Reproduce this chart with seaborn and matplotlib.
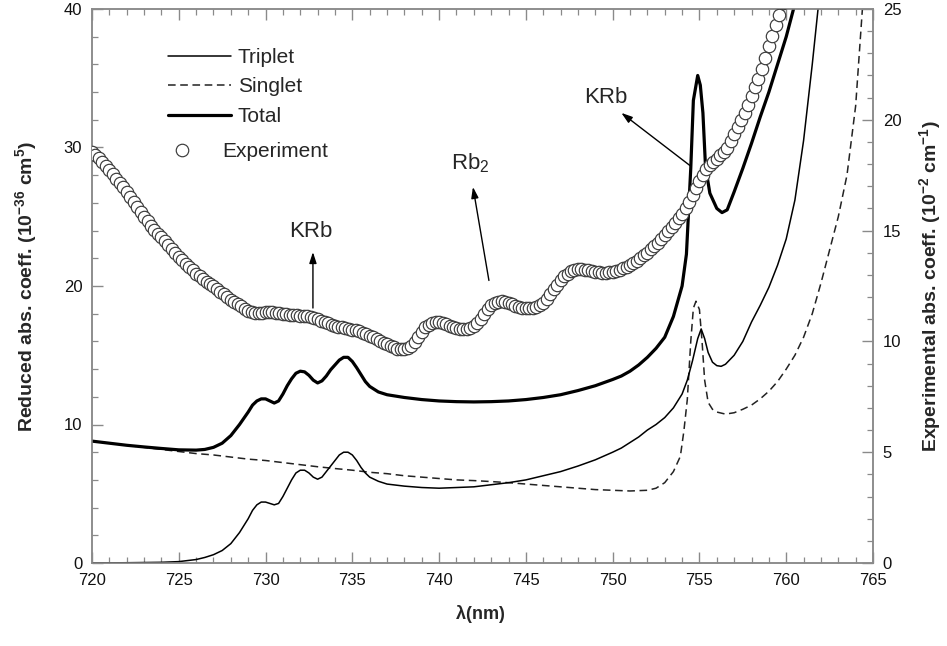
import numpy as np
import pandas as pd
import matplotlib
matplotlib.use("Agg")
import matplotlib.pyplot as plt
from matplotlib.lines import Line2D
from matplotlib.ticker import MultipleLocator
import seaborn as sns

# ---------------- data ----------------
# Triplet contribution, left axis (10^-36 cm^5)
wl_triplet = [720, 722, 724, 725, 726, 726.5, 727, 727.5, 728, 728.5, 729, 729.25, 729.5,
              729.75, 730.0, 730.25, 730.5, 730.75, 731.0, 731.25, 731.5, 731.75, 732.0,
              732.25, 732.5, 732.75, 733.0, 733.25, 733.5, 733.75, 734.0, 734.25, 734.5,
              734.75, 735.0, 735.25, 735.5, 735.75, 736.0, 736.5, 737, 738, 739, 740, 741,
              742, 743, 744, 745, 746, 747, 748, 749, 750, 750.5, 751, 751.5, 752, 752.5,
              753, 753.5, 754, 754.3, 754.6, 754.9, 755.1, 755.3, 755.5, 755.75, 756.0,
              756.25, 756.5, 757, 757.5, 758, 758.5, 759, 759.5, 760, 760.5, 761, 761.5, 762]
triplet = [0.0, 0.02, 0.05, 0.1, 0.25, 0.4, 0.6, 0.9, 1.4, 2.2, 3.2, 3.8, 4.2,
           4.4, 4.4, 4.3, 4.2, 4.3, 4.8, 5.4, 6.0, 6.5, 6.7,
           6.7, 6.5, 6.2, 6.05, 6.2, 6.6, 7.0, 7.4, 7.8, 8.0,
           8.0, 7.8, 7.4, 6.9, 6.5, 6.2, 5.9, 5.7, 5.55, 5.45, 5.4, 5.45,
           5.5, 5.65, 5.8, 6.0, 6.3, 6.6, 7.0, 7.45, 8.0, 8.3, 8.7, 9.1, 9.6, 10.0,
           10.5, 11.2, 12.2, 13.2, 14.6, 16.2, 16.9, 16.2, 15.2, 14.5, 14.25,
           14.2, 14.35, 15.0, 16.0, 17.4, 18.6, 19.9, 21.5, 23.4, 26.2, 30.5, 36.0, 42.0]

# Singlet contribution, left axis
wl_singlet = [720, 721, 722, 723, 724, 725, 726, 727, 728, 729, 730, 731, 732, 733, 734,
              735, 736, 737, 738, 739, 740, 741, 742, 743, 744, 745, 746, 747, 748, 749,
              750, 751, 752, 752.5, 753.0, 753.5, 753.9, 754.1, 754.3, 754.5, 754.65,
              754.8, 755.0, 755.15, 755.3, 755.5, 755.75, 756.0, 756.5, 757.0, 757.5,
              758.0, 758.5, 759.0, 759.5, 760.0, 760.5, 761.0, 761.5, 762.0, 762.5,
              763.0, 763.5, 764.0, 764.5]
singlet = [8.8, 8.65, 8.5, 8.35, 8.2, 8.05, 7.9, 7.8, 7.65, 7.5, 7.4, 7.25, 7.1, 6.95, 6.82,
           6.7, 6.55, 6.45, 6.3, 6.2, 6.1, 6.0, 5.95, 5.88, 5.8, 5.7, 5.6, 5.5, 5.4, 5.3,
           5.25, 5.2, 5.25, 5.4, 5.8, 6.6, 7.7, 9.5, 11.8, 16.0, 18.4,
           18.9, 18.3, 16.0, 13.2, 11.6, 11.1, 10.9, 10.75, 10.85, 11.1,
           11.4, 11.85, 12.4, 13.1, 14.0, 15.0, 16.3, 18.0, 20.2, 22.6,
           25.0, 28.0, 33.0, 42.0]

# Total, left axis
wl_total = [720, 721, 722, 723, 724, 725, 726, 726.5, 727, 727.5, 728, 728.5, 729, 729.25,
            729.5, 729.75, 730.0, 730.25, 730.5, 730.75, 731.0, 731.25, 731.5, 731.75,
            732.0, 732.25, 732.5, 732.75, 733.0, 733.25, 733.5, 733.75, 734.0, 734.25,
            734.5, 734.75, 735.0, 735.25, 735.5, 735.75, 736.0, 736.5, 737, 738, 739, 740,
            741, 742, 743, 744, 745, 746, 747, 748, 749, 750, 750.5, 751, 751.5, 752,
            752.5, 753, 753.5, 754, 754.25, 754.5, 754.65, 754.9, 755.05, 755.2, 755.35,
            755.6, 756.0, 756.3, 756.6, 757.0, 757.5, 758.0, 758.5, 759.0, 759.5, 760.0,
            760.4, 760.7]
total = [8.8, 8.65, 8.5, 8.38, 8.27, 8.17, 8.15, 8.2, 8.35, 8.65, 9.2, 10.0, 10.9, 11.4,
         11.7, 11.85, 11.85, 11.7, 11.55, 11.7, 12.2, 12.8, 13.3, 13.7,
         13.85, 13.8, 13.55, 13.2, 13.0, 13.15, 13.5, 13.95, 14.3, 14.65,
         14.85, 14.85, 14.55, 14.1, 13.6, 13.1, 12.75, 12.35, 12.15, 11.95, 11.8, 11.7,
         11.65, 11.63, 11.65, 11.7, 11.8, 11.95, 12.15, 12.45, 12.8, 13.25, 13.5, 13.85, 14.3, 14.85,
         15.5, 16.3, 17.8, 20.0, 22.3, 28.5, 33.4, 35.2, 34.5, 32.5, 28.6,
         26.7, 25.6, 25.3, 25.5, 26.8, 28.5, 30.3, 32.2, 34.0, 36.0, 38.0,
         39.9, 41.5]

# Experiment, right axis (10^-2 cm^-1), sampled every 0.2 nm from 720 nm
wl_exp_start, wl_exp_step = 720.0, 0.2
experiment = [
    18.56, 18.41, 18.26, 18.10, 17.93, 17.75, 17.55, 17.35, 17.15, 16.95,
    16.75, 16.53, 16.30, 16.08, 15.85, 15.63, 15.43, 15.23, 15.04, 14.86,
    14.69, 14.51, 14.34, 14.16, 13.99, 13.81, 13.66, 13.51, 13.36, 13.21,
    13.06, 12.94, 12.81, 12.70, 12.60, 12.50, 12.38, 12.25, 12.13, 12.00,
    11.88, 11.78, 11.68, 11.58, 11.48, 11.38, 11.33, 11.29, 11.28, 11.29,
    11.31, 11.31, 11.31, 11.30, 11.28, 11.25, 11.23, 11.20, 11.19, 11.18,
    11.16, 11.15, 11.14, 11.10, 11.05, 11.00, 10.94, 10.88, 10.81, 10.75,
    10.69, 10.66, 10.64, 10.61, 10.57, 10.53, 10.50, 10.46, 10.40, 10.33,
    10.25, 10.18, 10.10, 10.03, 9.95, 9.88, 9.80, 9.73, 9.66, 9.64,
    9.66, 9.71, 9.81, 9.97, 10.19, 10.44, 10.63, 10.76, 10.84, 10.88,
    10.88, 10.85, 10.79, 10.71, 10.64, 10.59, 10.57, 10.56, 10.58, 10.61,
    10.69, 10.83, 11.03, 11.24, 11.44, 11.63, 11.74, 11.79, 11.81, 11.80,
    11.75, 11.68, 11.60, 11.55, 11.52, 11.50, 11.50, 11.52, 11.56, 11.64,
    11.75, 11.93, 12.14, 12.35, 12.55, 12.75, 12.93, 13.06, 13.16, 13.23,
    13.25, 13.25, 13.23, 13.20, 13.16, 13.13, 13.11, 13.09, 13.09, 13.11,
    13.13, 13.18, 13.23, 13.29, 13.36, 13.44, 13.54, 13.64, 13.75, 13.88,
    14.00, 14.15, 14.30, 14.46, 14.64, 14.81, 14.99, 15.16, 15.35, 15.55,
    15.75, 16.01, 16.29, 16.60, 16.93, 17.25, 17.53, 17.76, 17.95, 18.10,
    18.25, 18.40, 18.55, 18.75, 19.06, 19.38, 19.68, 19.98, 20.31, 20.69,
    21.06, 21.46, 21.86, 22.31, 22.81, 23.31, 23.79, 24.26, 24.75, 25.25]
wl_experiment = [round(wl_exp_start + wl_exp_step * i, 2) for i in range(len(experiment))]

xticks = [720, 725, 730, 735, 740, 745, 750, 755, 760, 765]
yticks_left = [0, 10, 20, 30, 40]
yticks_right = [0, 5, 10, 15, 20, 25]

# ---------------- styling ----------------
sns.set_theme(style="white")
plt.rcParams['font.family'] = ['Liberation Sans', 'DejaVu Sans']
plt.rcParams['mathtext.fontset'] = 'custom'
plt.rcParams['mathtext.rm'] = 'Liberation Sans'
plt.rcParams['mathtext.it'] = 'Liberation Sans:italic'
plt.rcParams['mathtext.bf'] = 'Liberation Sans:bold'

W, H = 947, 646
fig = plt.figure(figsize=(W / 100, H / 100), dpi=100)
L, R, T, B = 92, 873, 9, 563
ax = fig.add_axes([L / W, 1 - B / H, (R - L) / W, (B - T) / H])
ax2 = ax.twinx()

df_t = pd.DataFrame({"wl": wl_triplet, "v": triplet})
df_s = pd.DataFrame({"wl": wl_singlet, "v": singlet})
df_tot = pd.DataFrame({"wl": wl_total, "v": total})
df_e = pd.DataFrame({"wl": wl_experiment, "v": experiment})

dash = (0, (5.0, 3.0))
sns.lineplot(data=df_s, x="wl", y="v", ax=ax, color="#222222", lw=1.1,
             ls=dash, sort=False, estimator=None, zorder=2)
sns.lineplot(data=df_t, x="wl", y="v", ax=ax, color="black", lw=1.1,
             sort=False, estimator=None, zorder=3)
sns.lineplot(data=df_tot, x="wl", y="v", ax=ax, color="black", lw=2.3,
             sort=False, estimator=None, zorder=4)
sns.scatterplot(data=df_e, x="wl", y="v", ax=ax2, marker="o", s=80,
                facecolor="white", edgecolor="#3a3a3a", linewidth=0.85, zorder=5)

ax.set_xlim(720, 765)
ax.set_ylim(0, 40)
ax2.set_ylim(0, 25)
ax.set_xticks(xticks)
ax.set_xticklabels([str(v) for v in xticks])
ax.set_yticks(yticks_left)
ax2.set_yticks(yticks_right)
ax.xaxis.set_minor_locator(MultipleLocator(1))
ax.yaxis.set_minor_locator(MultipleLocator(2))
ax2.yaxis.set_minor_locator(MultipleLocator(1))

tick_col = "#8a8a8a"
for a in (ax, ax2):
    for s in a.spines.values():
        s.set_color(tick_col)
        s.set_linewidth(1.1)
    a.grid(False)
ax.tick_params(axis="x", which="both", direction="in", top=True, bottom=True,
               color=tick_col, labelsize=12, pad=7, labelcolor="#111111")
ax.tick_params(axis="x", which="major", length=8, width=1.0)
ax.tick_params(axis="x", which="minor", length=4, width=0.9)
ax.tick_params(axis="y", which="both", direction="in", left=True, right=False,
               color=tick_col, labelsize=12, pad=7, labelcolor="#111111")
ax.tick_params(axis="y", which="major", length=8, width=1.0)
ax.tick_params(axis="y", which="minor", length=4, width=0.9)
ax2.tick_params(axis="y", which="both", direction="in", left=False, right=True,
                color=tick_col, labelsize=12, pad=7, labelcolor="#111111")
ax2.tick_params(axis="y", which="major", length=8, width=1.0)
ax2.tick_params(axis="y", which="minor", length=4, width=0.9)

ax.set_xlabel(r"$\mathbf{\lambda}$(nm)", fontsize=13, fontweight="bold")
ax.set_ylabel(r"Reduced abs. coeff. (10$^{\mathbf{-36}}$ cm$^{\mathbf{5}}$)",
              fontsize=14, fontweight="bold")
ax2.set_ylabel(r"Experimental abs. coeff. (10$^{\mathbf{-2}}$ cm$^{\mathbf{-1}}$)",
               fontsize=14, fontweight="bold")
ax.xaxis.set_label_coords(0.497, -0.072)
ax.yaxis.set_label_coords(-0.068, 0.5)
ax2.yaxis.set_label_coords(1.056, 0.5)

# ---------------- annotations ----------------
arrow_kw = dict(arrowstyle="-|>,head_length=0.55,head_width=0.18", color="black", lw=1.0,
                shrinkA=0, shrinkB=0)
ax.annotate("", xy=(732.73, 22.45), xytext=(732.73, 18.41), arrowprops=arrow_kw, zorder=6)
ax.text(732.6, 23.9, "KRb", fontsize=16, ha="center", va="center", zorder=6)
ax.annotate("", xy=(741.95, 27.15), xytext=(742.87, 20.4), arrowprops=arrow_kw, zorder=6)
ax.text(741.8, 28.9, r"Rb$_2$", fontsize=16, ha="center", va="center", zorder=6)
ax.annotate("", xy=(750.5, 32.5), xytext=(754.45, 28.7), arrowprops=arrow_kw, zorder=6)
ax.text(749.6, 33.6, "KRb", fontsize=16, ha="center", va="center", zorder=6)

# ---------------- legends ----------------
line_handles = [
    Line2D([], [], color="black", lw=1.1),
    Line2D([], [], color="#222222", lw=1.1, ls=dash),
    Line2D([], [], color="black", lw=2.3),
]
leg1 = ax2.legend(line_handles, ["Triplet", "Singlet", "Total"], loc="upper left",
                  bbox_to_anchor=((168 - L) / (R - L), (B - 48) / (B - T)),
                  frameon=False, fontsize=15, handlelength=3.0, handletextpad=0.35,
                  labelspacing=0.5, borderpad=0, borderaxespad=0)
ax2.add_artist(leg1)
exp_handle = Line2D([], [], ls="none", marker="o", ms=9, mfc="white", mec="#3a3a3a", mew=0.85)
ax2.legend([exp_handle], ["Experiment"], loc="upper left",
           bbox_to_anchor=((172 - L) / (R - L), (B - 142) / (B - T)),
           frameon=False, fontsize=15, handlelength=1.0, handletextpad=1.4,
           borderpad=0, borderaxespad=0)

fig.savefig("out.png", dpi=100)
